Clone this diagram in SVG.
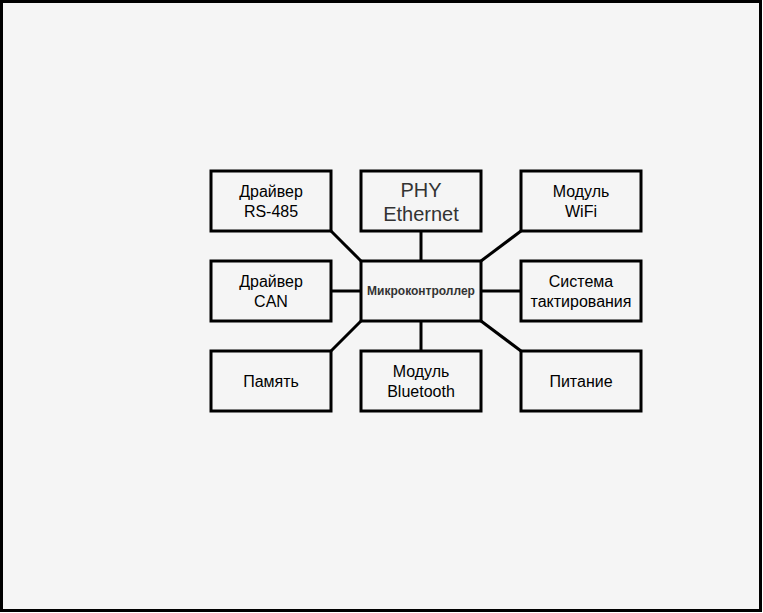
<svg xmlns="http://www.w3.org/2000/svg" width="763" height="613" viewBox="0 0 763 613">
<style>
.box{fill:#f5f5f5;stroke:#000;stroke-width:3}
.t{font-family:"Liberation Sans",Arial,sans-serif;font-size:16px;fill:#000;text-anchor:middle}
.big{font-size:20px;fill:#333}
.mcu{font-size:12px;font-weight:bold;fill:#333}
.c{stroke:#000;stroke-width:3;fill:none}
</style>
<rect x="1.5" y="1.5" width="759" height="609" fill="#f5f5f5" stroke="#000" stroke-width="3"/>
<g id="connectors">
<line class="c" x1="331" y1="231" x2="361" y2="261"/>
<line class="c" x1="421" y1="231" x2="421" y2="261"/>
<line class="c" x1="521" y1="231" x2="481" y2="261"/>
<line class="c" x1="331" y1="291" x2="361" y2="291"/>
<line class="c" x1="481" y1="291" x2="521" y2="291"/>
<line class="c" x1="331" y1="351" x2="361" y2="321"/>
<line class="c" x1="421" y1="321" x2="421" y2="351"/>
<line class="c" x1="481" y1="321" x2="521" y2="351"/>
</g>
<g id="rs485"><rect class="box" x="211" y="171" width="120" height="60"/><text class="t" x="271" y="197">Драйвер</text><text class="t" x="271" y="217">RS-485</text></g>
<g id="phy"><rect class="box" x="361" y="171" width="120" height="60"/><text class="t big" x="421" y="197">PHY</text><text class="t big" x="421" y="221">Ethernet</text></g>
<g id="wifi"><rect class="box" x="521" y="171" width="120" height="60"/><text class="t" x="581" y="197">Модуль</text><text class="t" x="581" y="217">WiFi</text></g>
<g id="can"><rect class="box" x="211" y="261" width="120" height="60"/><text class="t" x="271" y="287">Драйвер</text><text class="t" x="271" y="307">CAN</text></g>
<g id="mcu"><rect class="box" x="361" y="261" width="120" height="60"/><text class="t mcu" x="421" y="295">Микроконтроллер</text></g>
<g id="clock"><rect class="box" x="521" y="261" width="120" height="60"/><text class="t" x="581" y="287">Система</text><text class="t" x="581" y="307">тактирования</text></g>
<g id="memory"><rect class="box" x="211" y="351" width="120" height="60"/><text class="t" x="271" y="387">Память</text></g>
<g id="bt"><rect class="box" x="361" y="351" width="120" height="60"/><text class="t" x="421" y="377">Модуль</text><text class="t" x="421" y="397">Bluetooth</text></g>
<g id="power"><rect class="box" x="521" y="351" width="120" height="60"/><text class="t" x="581" y="387">Питание</text></g>
</svg>
